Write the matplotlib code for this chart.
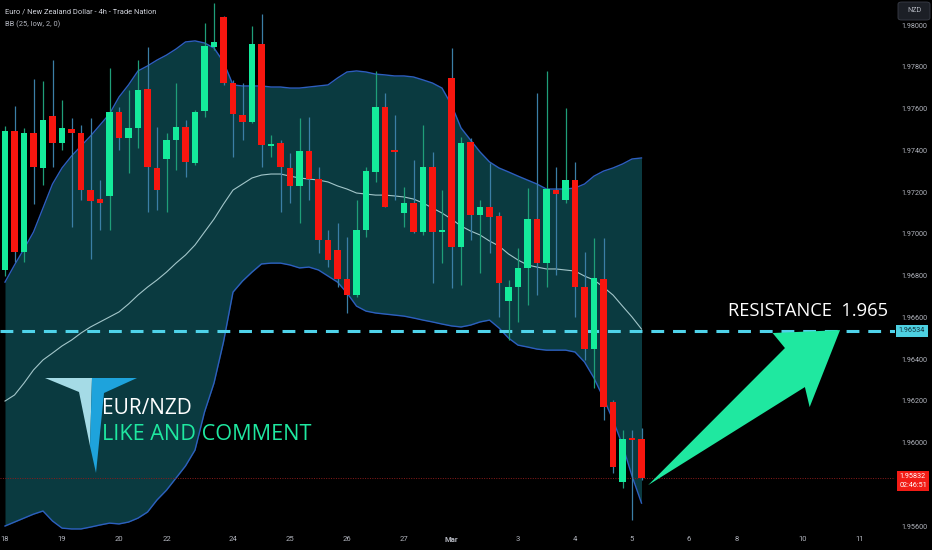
import matplotlib
matplotlib.use("Agg")
import matplotlib.pyplot as plt
from matplotlib.patches import Polygon, FancyBboxPatch
import numpy as np

plt.rcParams['font.family'] = ['Roboto', 'DejaVu Sans']

# EUR/NZD 4h candles
opens = [1.96827, 1.97493, 1.96913, 1.97484, 1.97316, 1.97565, 1.97436, 1.97503, 1.97484, 1.97210,
         1.97167, 1.97182, 1.97584, 1.97460, 1.97508, 1.97694, 1.97316, 1.97359, 1.97450, 1.97512,
         1.97340, 1.97589, 1.97896, 1.98040, 1.97723, 1.97570, 1.97536, 1.97910, 1.97421, 1.97436,
         1.97316, 1.97230, 1.97397, 1.97263, 1.96971, 1.96923, 1.96784, 1.96707, 1.97019, 1.97297,
         1.97608, 1.97402, 1.97100, 1.97148, 1.97009, 1.97321, 1.97009, 1.97747, 1.96937, 1.97440,
         1.97091, 1.97129, 1.97086, 1.96678, 1.96745, 1.96837, 1.97071, 1.96860, 1.97210, 1.97162,
         1.97258, 1.96745, 1.96448, 1.96784, 1.96194, 1.95811, 1.96022, 1.96017]
highs = [1.97517, 1.97613, 1.97508, 1.97742, 1.97733, 1.97833, 1.97642, 1.97555, 1.97522, 1.97555,
         1.97258, 1.97795, 1.97608, 1.97690, 1.97833, 1.97896, 1.97512, 1.97484, 1.97723, 1.97546,
         1.97594, 1.98011, 1.98107, 1.98044, 1.97738, 1.97723, 1.97996, 1.98054, 1.97474, 1.97450,
         1.97388, 1.97555, 1.97560, 1.97321, 1.97019, 1.97052, 1.96985, 1.97162, 1.97321, 1.97781,
         1.97675, 1.97570, 1.97225, 1.97354, 1.97522, 1.97393, 1.97210, 1.97891, 1.97464, 1.97460,
         1.97162, 1.97340, 1.97105, 1.96779, 1.96932, 1.97220, 1.97675, 1.97781, 1.97321, 1.97603,
         1.97345, 1.96913, 1.96980, 1.96980, 1.96204, 1.96060, 1.96060, 1.96070]
lows = [1.96798, 1.96865, 1.96865, 1.97143, 1.97234, 1.97321, 1.97402, 1.97033, 1.97162, 1.96880,
        1.97019, 1.97019, 1.97402, 1.97292, 1.97412, 1.97105, 1.97115, 1.97105, 1.97306, 1.97273,
        1.97330, 1.97560, 1.97881, 1.97714, 1.97369, 1.97450, 1.97532, 1.97321, 1.97369, 1.97105,
        1.97148, 1.97052, 1.97162, 1.96908, 1.96841, 1.96745, 1.96621, 1.96698, 1.96985, 1.97249,
        1.97129, 1.97162, 1.97033, 1.97004, 1.96995, 1.96765, 1.96860, 1.96741, 1.96755, 1.96971,
        1.96813, 1.96908, 1.96602, 1.96491, 1.96578, 1.96659, 1.96707, 1.96745, 1.96803, 1.97148,
        1.96602, 1.96396, 1.96261, 1.96108, 1.95854, 1.95782, 1.95629, 1.95820]
closes = [1.97493, 1.96913, 1.97484, 1.97321, 1.97546, 1.97436, 1.97508, 1.97484, 1.97210, 1.97158,
          1.97148, 1.97584, 1.97460, 1.97508, 1.97690, 1.97321, 1.97210, 1.97450, 1.97512, 1.97345,
          1.97584, 1.97901, 1.97920, 1.97723, 1.97575, 1.97536, 1.97910, 1.97426, 1.97431, 1.97321,
          1.97230, 1.97397, 1.97263, 1.96971, 1.96875, 1.96784, 1.96707, 1.97019, 1.97301, 1.97608,
          1.97129, 1.97393, 1.97148, 1.97009, 1.97321, 1.97009, 1.97019, 1.96937, 1.97436, 1.97091,
          1.97129, 1.97081, 1.96765, 1.96745, 1.96837, 1.97071, 1.96860, 1.97215, 1.97191, 1.97258,
          1.96745, 1.96448, 1.96789, 1.96170, 1.95883, 1.96017, 1.96012, 1.95832]

# Bollinger bands BB(25, low, 2)
bb_upper = [1.96769, 1.96851, 1.96928, 1.97009, 1.97124, 1.97239, 1.97316, 1.97373, 1.97421, 1.97469,
            1.97522, 1.97575, 1.97656, 1.97714, 1.97781, 1.97805, 1.97833, 1.97857, 1.97886, 1.97920,
            1.97925, 1.97915, 1.97891, 1.97824, 1.97714, 1.97709, 1.97709, 1.97709, 1.97704, 1.97704,
            1.97699, 1.97699, 1.97704, 1.97709, 1.97714, 1.97747, 1.97776, 1.97781, 1.97776, 1.97766,
            1.97762, 1.97757, 1.97757, 1.97752, 1.97738, 1.97723, 1.97699, 1.97618, 1.97508, 1.97450,
            1.97393, 1.97345, 1.97316, 1.97297, 1.97277, 1.97258, 1.97239, 1.97215, 1.97215, 1.97215,
            1.97220, 1.97239, 1.97277, 1.97301, 1.97316, 1.97335, 1.97359, 1.97364]
bb_basis = [1.96199, 1.96228, 1.96285, 1.96348, 1.96396, 1.96429, 1.96463, 1.96491, 1.96525, 1.96554,
            1.96578, 1.96602, 1.96626, 1.96664, 1.96707, 1.96745, 1.96779, 1.96817, 1.96860, 1.96899,
            1.96947, 1.97009, 1.97071, 1.97143, 1.97210, 1.97239, 1.97268, 1.97282, 1.97287, 1.97287,
            1.97277, 1.97268, 1.97263, 1.97258, 1.97249, 1.97230, 1.97215, 1.97196, 1.97191, 1.97186,
            1.97186, 1.97182, 1.97177, 1.97167, 1.97148, 1.97124, 1.97100, 1.97071, 1.97038, 1.97014,
            1.96995, 1.96966, 1.96942, 1.96904, 1.96875, 1.96851, 1.96841, 1.96832, 1.96832, 1.96827,
            1.96822, 1.96798, 1.96779, 1.96745, 1.96707, 1.96654, 1.96602, 1.96544]
bb_lower = [1.95600, 1.95619, 1.95638, 1.95657, 1.95672, 1.95624, 1.95590, 1.95586, 1.95586, 1.95595,
            1.95605, 1.95614, 1.95610, 1.95619, 1.95638, 1.95667, 1.95725, 1.95772, 1.95830, 1.95888,
            1.95964, 1.96146, 1.96285, 1.96482, 1.96721, 1.96774, 1.96817, 1.96856, 1.96860, 1.96860,
            1.96851, 1.96837, 1.96841, 1.96827, 1.96798, 1.96769, 1.96717, 1.96654, 1.96630, 1.96621,
            1.96616, 1.96611, 1.96606, 1.96597, 1.96587, 1.96578, 1.96568, 1.96559, 1.96554, 1.96563,
            1.96578, 1.96587, 1.96549, 1.96501, 1.96467, 1.96458, 1.96448, 1.96443, 1.96443, 1.96443,
            1.96434, 1.96386, 1.96309, 1.96213, 1.96108, 1.95988, 1.95840, 1.95710]

# date labels and the bar they sit on
tick_bars = [0, 6, 12, 17, 24, 30, 36, 42, 47, 54, 60, 66, 72, 77, 84, 90]
tick_labels = ['18', '19', '20', '22', '24', '25', '26', '27', 'Mar', '3', '4', '5', '6', '8', '10', '11']
# 1.95800 sits under the last-price tag, so it is not shown
price_ticks = [1.956, 1.960, 1.962, 1.964, 1.966, 1.968, 1.970, 1.972, 1.974, 1.976, 1.978, 1.980]

resistance = 1.96534
last_price = 1.95832

W, H = 932, 550
PANE_W, PANE_H = 895, 530
BAR_PX, FIRST_PX = 9.5, 5.0

GREEN = '#14eb9b'
RED = '#f7160f'
MINT = '#1fe8a0'


def fxy(x, y):
    # pixel (from top-left) -> figure fraction
    return x / W, 1 - y / H


fig = plt.figure(figsize=(W / 100, H / 100), dpi=100, facecolor='black')
ax = fig.add_axes([0, (H - PANE_H) / H, PANE_W / W, PANE_H / H])
ax.set_facecolor('black')
for s in ax.spines.values():
    s.set_visible(False)

bars = np.arange(len(opens))
o = np.array(opens)
hi = np.array(highs)
lo = np.array(lows)
c = np.array(closes)
up = c >= o

# bollinger bands
ax.fill_between(bars, bb_lower, bb_upper, color='#0a3a40', lw=0, zorder=1)
ax.plot(bars, bb_upper, color='#2d5fbf', lw=1.0, zorder=2)
ax.plot(bars, bb_lower, color='#2d5fbf', lw=1.0, zorder=2)
ax.plot(bars, bb_basis, color='#a3c6ca', lw=0.8, zorder=2)

# levels
ax.axhline(resistance, color='#4fd3ea', lw=2.2, dashes=(4.2, 2.9), zorder=2.5)
ax.axhline(last_price, color='#8c1c1c', lw=0.7, ls=(0, (1, 1.5)), zorder=2.5)

# candles
wick_cols = np.where(up, '#1f9e78', '#3b7fa6')
ax.vlines(bars, lo, hi, colors=wick_cols, lw=0.9, zorder=3)
body_bot = np.minimum(o, c)
body_h = np.maximum(np.abs(c - o), 0.00005)
ax.bar(bars, body_h, bottom=body_bot, width=0.66, color=np.where(up, GREEN, RED), lw=0, zorder=4)

# arrow drawing (bar, price)
arrow_pts = [(67.7, 1.95796), (82.1, 1.96453), (80.8, 1.96525), (87.9, 1.96539),
             (84.7, 1.96170), (84.2, 1.96266)]
ax.add_patch(Polygon(arrow_pts, closed=True, fc=MINT, ec='none', zorder=6, clip_on=False))

ax.set_xlim(-FIRST_PX / BAR_PX, (PANE_W - FIRST_PX) / BAR_PX)
ax.set_ylim(1.95581, 1.98121)

ax.set_xticks(tick_bars)
ax.set_xticklabels(tick_labels)
for t in ax.get_xticklabels():
    if t.get_text() == 'Mar':
        t.set_fontweight('bold')
ax.tick_params(axis='x', length=0, pad=4, labelcolor='#b2b5be', labelsize=5.5)
ax.yaxis.tick_right()
ax.set_yticks(price_ticks)
ax.set_yticklabels(['%.5f' % p for p in price_ticks])
ax.tick_params(axis='y', length=0, pad=4.5, labelcolor='#b2b5be', labelsize=5.2)

# header texts
fig.text(*fxy(5, 12), 'Euro / New Zealand Dollar - 4h - Trade Nation', color='#d1d4dc',
         fontsize=5.4, va='center', ha='left')
fig.text(*fxy(5, 24.5), 'BB (25, low, 2, 0)', color='#b2b5be', fontsize=5.4, va='center', ha='left')

# NZD button
bx, by = fxy(898, 20)
fig.patches.append(FancyBboxPatch((bx, by), 32 / W, 18 / H, boxstyle='round,pad=0,rounding_size=0.004',
                                  transform=fig.transFigure, fc='#1c1f26', ec='#3a3e48', lw=0.6))
fig.text(*fxy(914, 11), 'NZD', color='#b2b5be', fontsize=5.2, ha='center', va='center')

# price tags
fig.text(*fxy(912, 331), '%.5f' % resistance, color='#10303a', fontsize=5.2, ha='center', va='center',
         bbox=dict(boxstyle='square,pad=0.35', fc='#4dd0e1', ec='none'))
fig.text(*fxy(913, 481), '%.5f\n02:46:51' % last_price, color='white', fontsize=5.2, ha='center',
         va='center', linespacing=1.25, bbox=dict(boxstyle='square,pad=0.35', fc='#f21c16', ec='none'))

# resistance annotation
fig.text(*fxy(728, 311), 'RESISTANCE  1.965', color='white', fontsize=13.2, ha='left', va='center',
         family=['Open Sans', 'DejaVu Sans'])

# logo and caption
light = [fxy(45, 378), fxy(92, 378), fxy(90, 446), fxy(79, 392)]
blue = [fxy(92, 378), fxy(137, 378), fxy(104, 393), fxy(96, 473), fxy(90, 446)]
fig.patches.append(Polygon(light, closed=True, transform=fig.transFigure, fc='#a5dbe6', ec='none'))
fig.patches.append(Polygon(blue, closed=True, transform=fig.transFigure, fc='#1ea3dc', ec='none'))
fig.text(*fxy(102, 408), 'EUR/NZD', color='white', fontsize=15, ha='left', va='center',
         family=['Open Sans', 'DejaVu Sans'])
fig.text(*fxy(102, 434), 'LIKE AND COMMENT', color=MINT, fontsize=15.6, ha='left', va='center',
         family=['Open Sans', 'DejaVu Sans'])

fig.savefig('out.png', dpi=100, facecolor='black')
